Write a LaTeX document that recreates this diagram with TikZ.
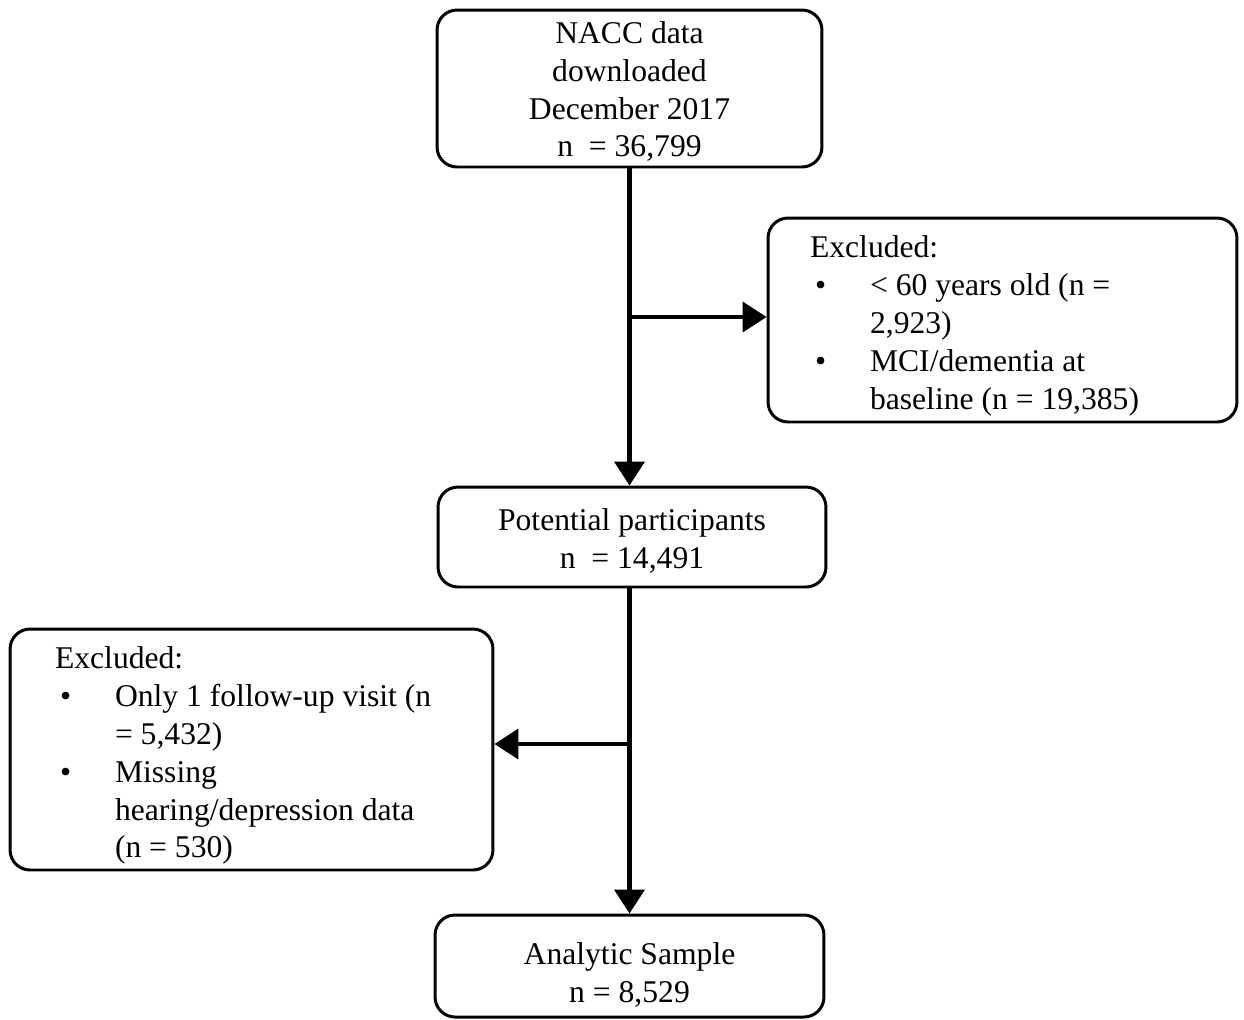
\documentclass[tikz,border=0pt]{standalone}
\usepackage{fontspec}
\setmainfont{Liberation Serif}
\usetikzlibrary{arrows.meta}

\begin{document}
\begin{tikzpicture}[x=0.02cm,y=-0.02cm]
        \def\bigfont{\fontsize{18}{21.6}\selectfont}
        \def\bul{\makebox[1.2cm][l]{\hspace*{0.1cm}\textbullet}}
        \def\ind{\hspace*{1.2cm}}
        \def\toppad#1{\rule{0pt}{#1}}

        \tikzset{box/.style={
           draw,
           line width=1.7pt,
           rounded corners=0.4cm,
           align=center,
           font=\bigfont,
           inner sep=0pt
        }}
        \tikzset{exclbox/.style={
           box,
           align=flush left
        }}
        \tikzset{flow/.style={
           line width=2.3pt,
           -{Triangle[length=0.48cm,width=0.6cm]}
        }}

        \useasboundingbox (0,0) rectangle (1244,1019);

        % Main boxes
        \node[box, minimum width=7.7cm, minimum height=3.14cm] (nacc) at (629.5,88.5)
             {\toppad{15.9pt}NACC data\\ downloaded\\ December 2017\\ n ~= 36,799};
        \node[box, minimum width=7.76cm, minimum height=2cm] (potential) at (632,537)
             {\toppad{17pt}Potential participants\\ n ~= 14,491};
        \node[box, minimum width=7.78cm, minimum height=2.04cm] (analytic) at (629.5,966)
             {\toppad{22.7pt}Analytic Sample\\ n = 8,529};

        % Exclusions
        \node[exclbox, text width=7.7cm, inner xsep=0.84cm, minimum height=4.08cm] (excl1) at (1002.5,320)
             {\toppad{19.3pt}Excluded:\\
              \bul < 60 years old (n =\\
              \ind 2,923)\\
              \bul MCI/dementia at\\
              \ind baseline (n = 19,385)};
        \node[exclbox, text width=7.86cm, inner xsep=0.9cm, minimum height=4.82cm] (excl2) at (251.5,749.5)
             {\toppad{19.3pt}Excluded:\\
              \bul Only 1 follow-up visit (n\\
              \ind = 5,432)\\
              \bul Missing\\
              \ind hearing/depression data\\
              \ind (n = 530)};

        % Lines
        \coordinate (split1) at (629,317);
        \coordinate (split2) at (629,744);
        \draw[flow] (nacc.south) -- (nacc.south |- potential.north);
        \draw[flow] (split1) -- (split1 -| excl1.west);
        \draw[flow] (potential.south -| nacc.south) -- (nacc.south |- analytic.north);
        \draw[flow] (split2) -- (split2 -| excl2.east);
\end{tikzpicture}
\end{document}
